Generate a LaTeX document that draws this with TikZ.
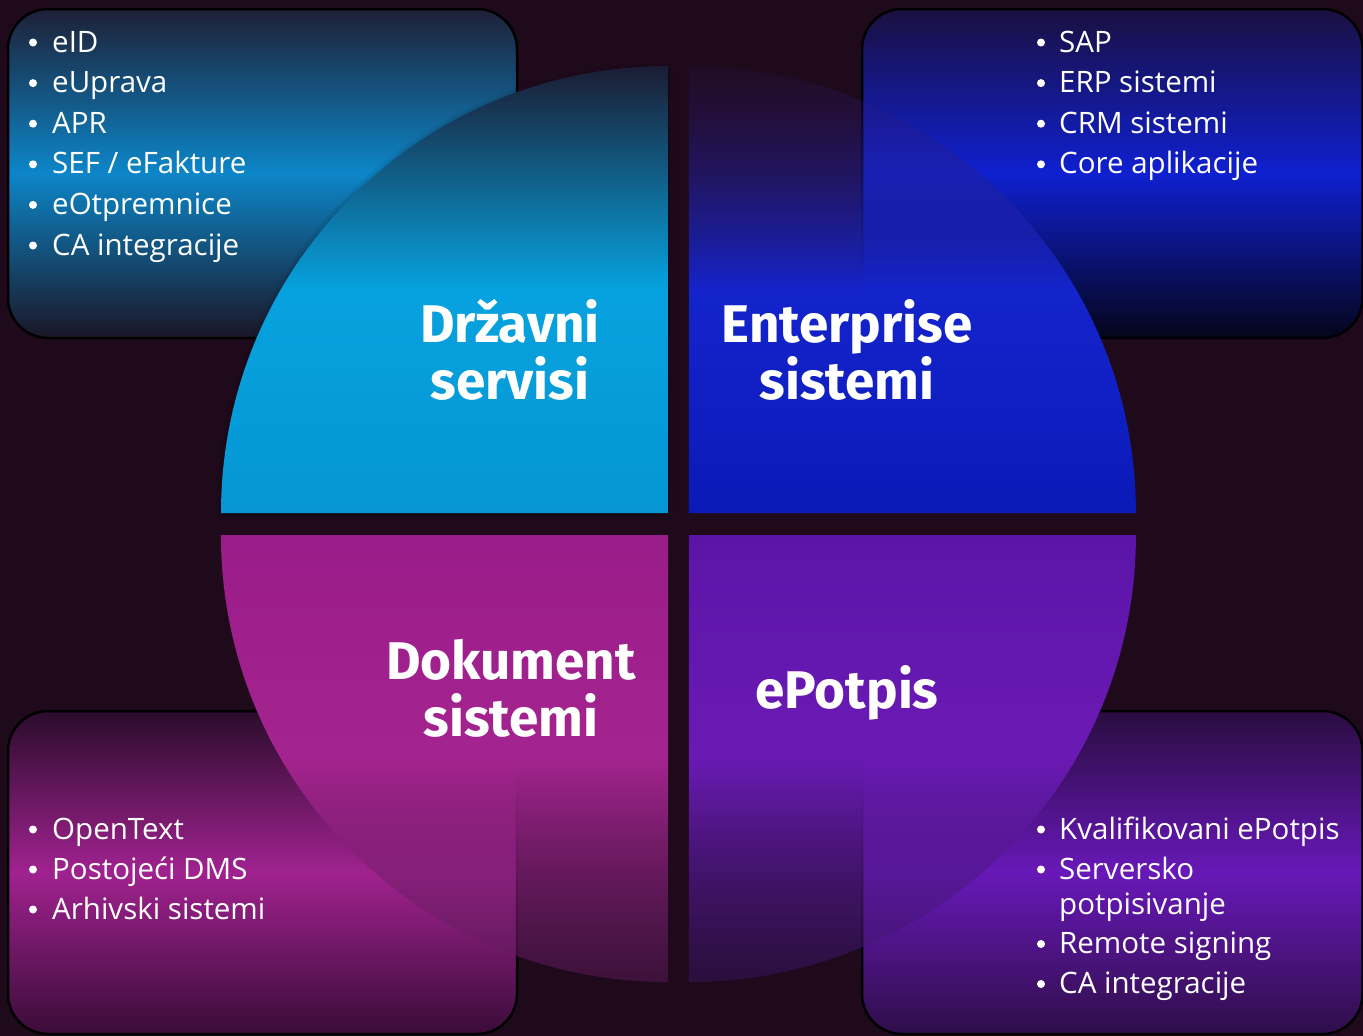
\documentclass[tikz,border=0pt]{standalone}
\usepackage{fontspec}
\setmainfont{Open Sans}
\newfontfamily\headfont{Fira Sans}
\usetikzlibrary{fadings,shadows.blur}
\definecolor{bg}{HTML}{1F0A1C}
\definecolor{tlA}{HTML}{1E2036}\definecolor{tlB}{HTML}{0C86C8}\definecolor{tlC}{HTML}{1A1626}
\definecolor{trA}{HTML}{1A1040}\definecolor{trB}{HTML}{0F20D0}\definecolor{trC}{HTML}{05051A}
\definecolor{blA}{HTML}{2A0C2C}\definecolor{blB}{HTML}{A0228F}\definecolor{blC}{HTML}{3A0C38}
\definecolor{brA}{HTML}{2A0C40}\definecolor{brB}{HTML}{6818B8}\definecolor{brC}{HTML}{2E0E48}
\definecolor{qtlA}{HTML}{1B1C33}\definecolor{qtlB}{HTML}{06A2DF}\definecolor{qtlC}{HTML}{0596D3}
\definecolor{qtrA}{HTML}{301A70}\definecolor{qtrB}{HTML}{1424CC}\definecolor{qtrC}{HTML}{0A1AB8}
\definecolor{qblA}{HTML}{9A1C8A}\definecolor{qblB}{HTML}{A4248F}\definecolor{qblC}{HTML}{5A1A58}
\definecolor{qbrA}{HTML}{5C14A8}\definecolor{qbrB}{HTML}{6A1AB4}\definecolor{qbrC}{HTML}{3A1565}
\tikzfading[name=fadeTopIn, top color=transparent!90, bottom color=transparent!0, middle color=transparent!0]
\tikzfading[name=fadeBotOut, top color=transparent!0, bottom color=transparent!50, middle color=transparent!0]
\tikzfading[name=fadeBotOutB, top color=transparent!0, bottom color=transparent!55, middle color=transparent!0]
\tikzset{
  box/.style={line width=2.5pt, draw=black, rounded corners=40pt},
  qshadow/.style={blur shadow={shadow xshift=0pt, shadow yshift=-2pt, shadow blur radius=6pt, shadow blur steps=8, shadow opacity=45}},
  itm/.style={text=white, font=\fontsize{29.5}{36}\selectfont, inner sep=0pt, anchor=base west},
  bul/.style={circle, fill=white, minimum size=8pt, inner sep=0pt},
  head/.style={text=white, font=\headfont\bfseries\fontsize{53}{60}\selectfont, inner sep=0pt, anchor=base}
}
\newcommand\bitem[5]{\node[bul] (#1b) at (#2,#4-9.5) {}; \node[itm] (#1) at (#3,#4) {#5};}
\begin{document}
\begin{tikzpicture}[x=1pt,y=-1pt]
\useasboundingbox (0,0) rectangle (1363,1036);
\fill[bg] (0,0) rectangle (1363,1036);
% corner boxes
\shadedraw[box, top color=tlA, bottom color=tlC, middle color=tlB] (8,9) rectangle (517,338);
\shadedraw[box, top color=trA, bottom color=trC, middle color=trB] (862,9) rectangle (1362.5,338);
\shadedraw[box, top color=blA, bottom color=blC, middle color=blB] (8,711) rectangle (517,1034);
\shadedraw[box, top color=brA, bottom color=brC, middle color=brB] (862,711) rectangle (1362.5,1034);
% quadrants
\shade[qshadow, top color=qtlA, bottom color=qtlC, middle color=qtlB]
  (668,513) -- (221,513) arc[start angle=180, end angle=270, radius=447] -- cycle;
\shade[top color=qtrA, bottom color=qtrC, middle color=qtrB, path fading=fadeTopIn]
  (689,513) -- (689,66) arc[start angle=270, end angle=360, radius=447] -- cycle;
\shade[top color=qblA, bottom color=qblC, middle color=qblB, path fading=fadeBotOut]
  (668,535) -- (221,535) arc[start angle=180, end angle=90, radius=447] -- cycle;
\shade[top color=qbrA, bottom color=qbrC, middle color=qbrB, path fading=fadeBotOutB]
  (689,535) -- (1136,535) arc[start angle=0, end angle=90, radius=447] -- cycle;
% headings
\node[head] (hDa) at (510,342) {Državni};
\node[head] (hDb) at (510,399) {servisi};
\node[head] (hEa) at (847,342) {Enterprise};
\node[head] (hEb) at (847,399) {sistemi};
\node[head] (hKa) at (511,679) {Dokument};
\node[head] (hKb) at (511,736) {sistemi};
\node[head] (hP) at (847,708) {ePotpis};
% lists
\bitem{a1}{33}{52}{52}{eID}
\bitem{a2}{33}{52}{92.6}{eUprava}
\bitem{a3}{33}{52}{133.2}{APR}
\bitem{a4}{33}{52}{173.8}{SEF / eFakture}
\bitem{a5}{33}{52}{214.4}{eOtpremnice}
\bitem{a6}{33}{52}{255}{CA integracije}
\bitem{c1}{1041}{1059}{52}{SAP}
\bitem{c2}{1041}{1059}{92.6}{ERP sistemi}
\bitem{c3}{1041}{1059}{133.2}{CRM sistemi}
\bitem{c4}{1041}{1059}{173.8}{Core aplikacije}
\bitem{d1}{33}{52}{839}{OpenText}
\bitem{d2}{33}{52}{879}{Postojeći DMS}
\bitem{d3}{33}{52}{919}{Arhivski sistemi}
\bitem{e1}{1041}{1059}{839}{Kvalifikovani ePotpis}
\bitem{e2}{1041}{1059}{879}{Serversko}
\node[itm] (e2b) at (1059,914) {potpisivanje};
\bitem{e3}{1041}{1059}{953.5}{Remote signing}
\bitem{e4}{1041}{1059}{993.5}{CA integracije}
\end{tikzpicture}
\end{document}
